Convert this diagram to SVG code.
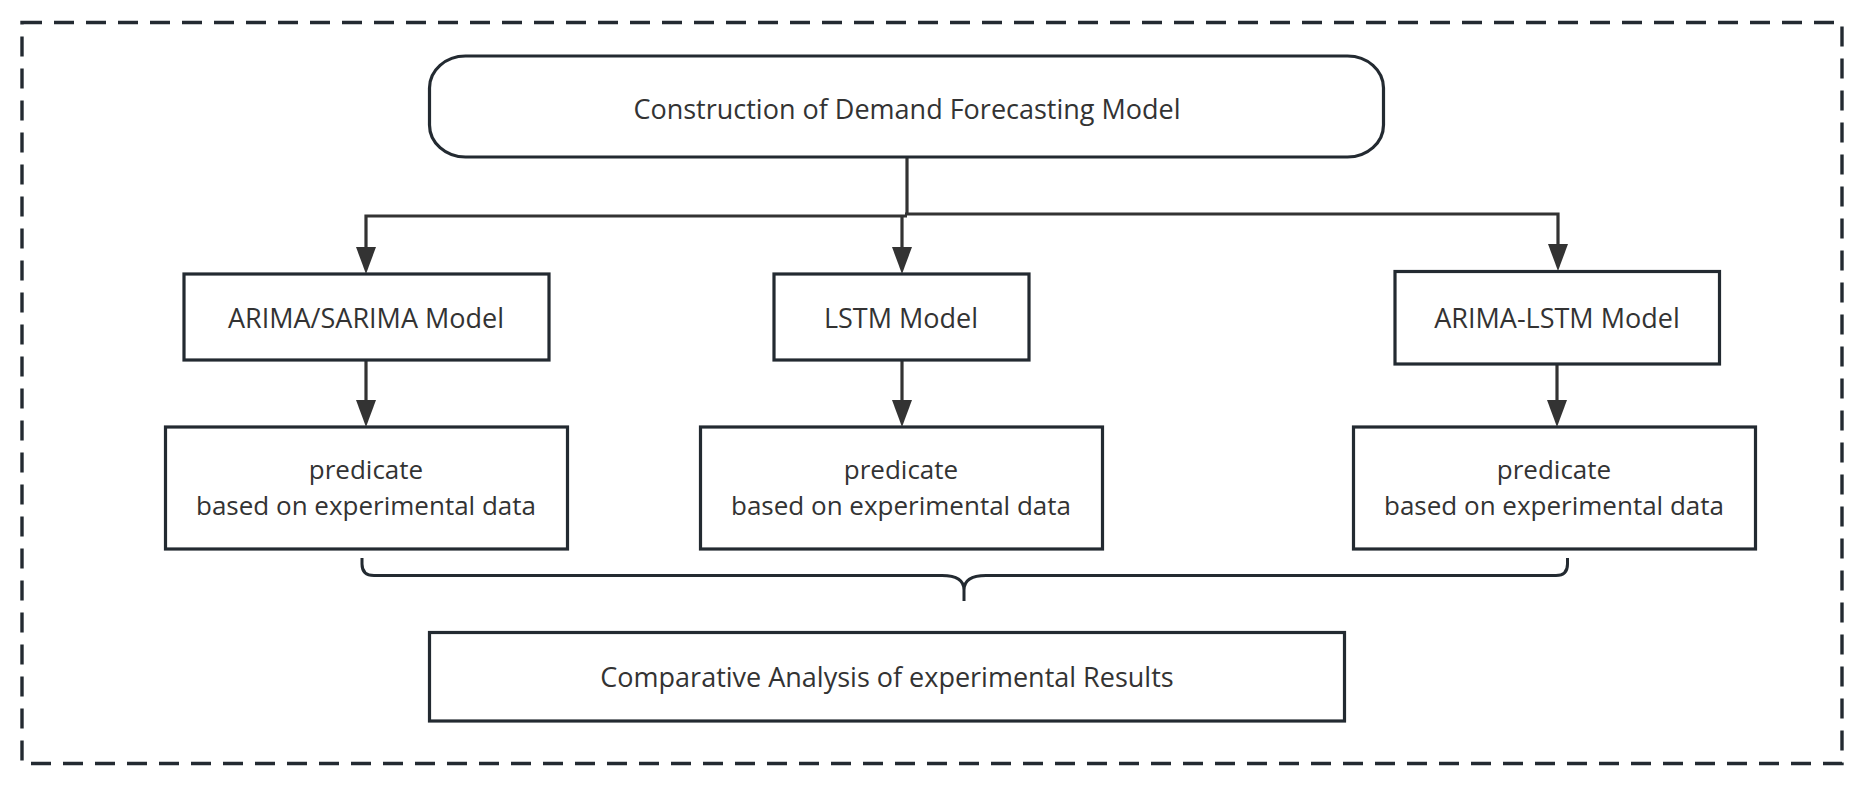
<svg xmlns="http://www.w3.org/2000/svg" width="1871" height="789" viewBox="0 0 1871 789">
<style>
.box{fill:#fff;stroke:#232a31;stroke-width:3.2}
.lbl{font-family:"Open Sans","Noto Sans",sans-serif;font-size:27px;fill:#333;text-anchor:middle}
.sm{font-size:26px}
.con{fill:none;stroke:#333;stroke-width:3.2}
.brace{fill:none;stroke:#232a31;stroke-width:3}
</style>
<defs>
<marker id="arr" markerUnits="userSpaceOnUse" markerWidth="28" markerHeight="22" refX="17" refY="10" orient="auto">
<path d="M0,0 L27,10 L0,20 z" fill="#333"/>
</marker>
</defs>
<rect x="0" y="0" width="1871" height="789" fill="#fff"/>
<rect id="frame" x="22" y="22.5" width="1820" height="741" fill="none" stroke="#232a31" stroke-width="3.4" stroke-dasharray="20 12"/>
<g id="connectors">
<path class="con" d="M907,157 V214"/>
<path class="con" d="M907,216 H366 V264" marker-end="url(#arr)"/>
<path class="con" d="M902,216 V264" marker-end="url(#arr)"/>
<path class="con" d="M905,214 H1558 V261" marker-end="url(#arr)"/>
<path class="con" d="M366,360 V417" marker-end="url(#arr)"/>
<path class="con" d="M902,360 V417" marker-end="url(#arr)"/>
<path class="con" d="M1557,364 V417" marker-end="url(#arr)"/>
<path class="brace" d="M362,558 V564 Q362,575.5 374,575.5 H942 Q964,575.5 964,590 V601 M964,590 Q964,575.5 986,575.5 H1556 Q1567.5,575.5 1567.5,564 V558"/>
</g>
<g id="n-top">
<rect class="box" x="429.5" y="56" width="954" height="101" rx="36" ry="32"/>
<text class="lbl" x="907" y="119">Construction of Demand Forecasting Model</text>
</g>
<g id="n-arima">
<rect class="box" x="184" y="274" width="365" height="86"/>
<text class="lbl" x="366" y="328">ARIMA/SARIMA Model</text>
</g>
<g id="n-lstm">
<rect class="box" x="774" y="274" width="255" height="86"/>
<text class="lbl" x="901" y="328">LSTM Model</text>
</g>
<g id="n-hybrid">
<rect class="box" x="1395" y="271.5" width="324.5" height="92.5"/>
<text class="lbl" x="1557" y="328">ARIMA-LSTM Model</text>
</g>
<g id="n-pred1">
<rect class="box" x="165.5" y="427" width="402" height="122"/>
<text class="lbl sm" x="366" y="479">predicate</text>
<text class="lbl sm" x="366" y="515">based on experimental data</text>
</g>
<g id="n-pred2">
<rect class="box" x="700.5" y="427" width="402" height="122"/>
<text class="lbl sm" x="901" y="479">predicate</text>
<text class="lbl sm" x="901" y="515">based on experimental data</text>
</g>
<g id="n-pred3">
<rect class="box" x="1353.5" y="427" width="402" height="122"/>
<text class="lbl sm" x="1554" y="479">predicate</text>
<text class="lbl sm" x="1554" y="515">based on experimental data</text>
</g>
<g id="n-compare">
<rect class="box" x="429.5" y="632.5" width="915" height="88.5"/>
<text class="lbl" x="887" y="687">Comparative Analysis of experimental Results</text>
</g>
</svg>
